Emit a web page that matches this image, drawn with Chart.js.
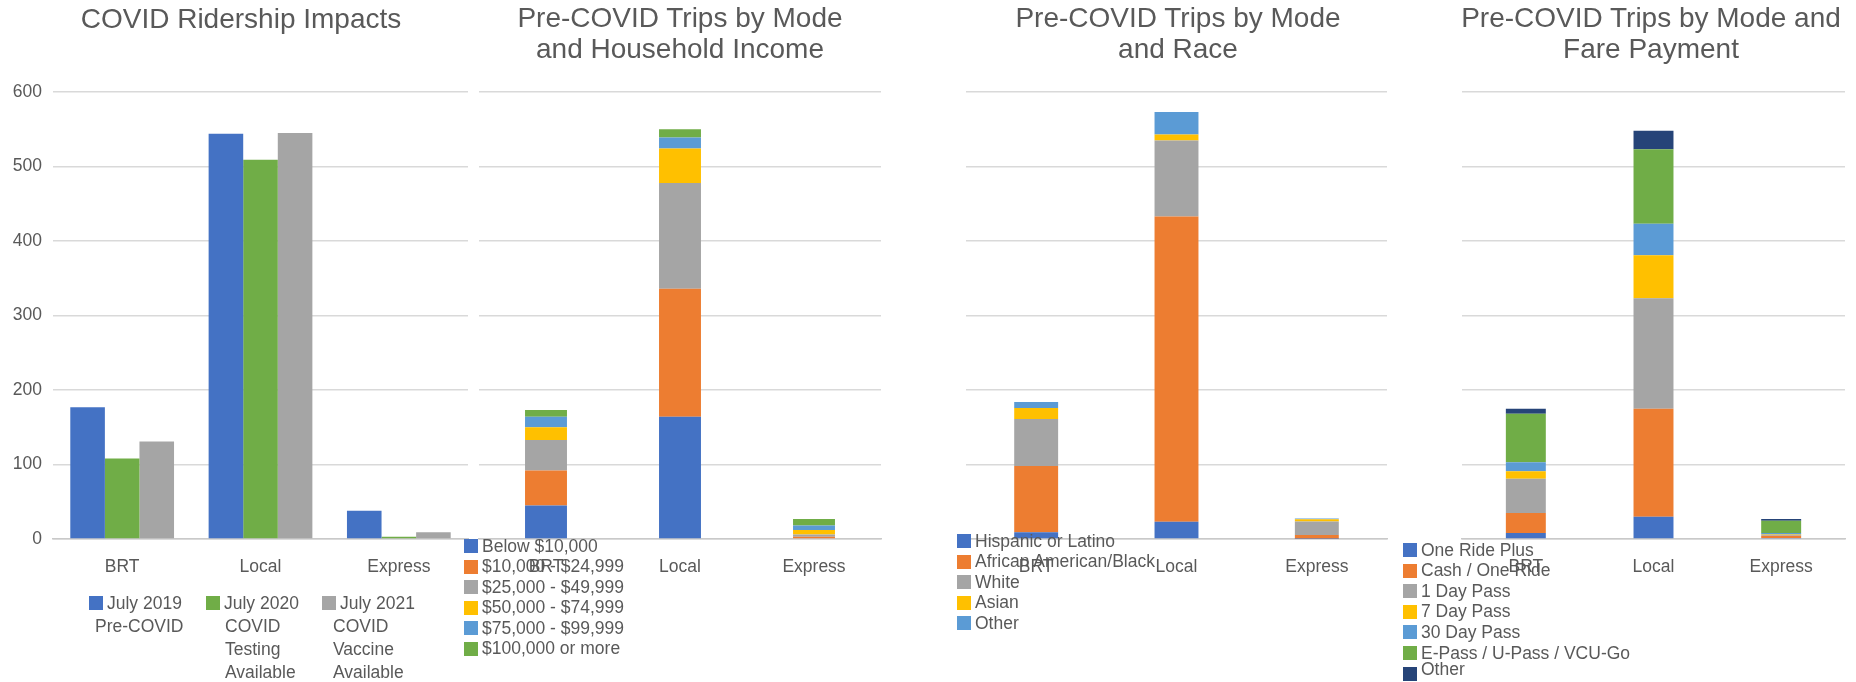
<!DOCTYPE html>
<html>
<head>
<meta charset="utf-8">
<script src="https://cdn.jsdelivr.net/npm/chart.js@4.4.1/dist/chart.umd.min.js"></script>
<style>
  html, body { margin: 0; padding: 0; background: #fff; width: 1856px; height: 682px; overflow: hidden;
    font-family: "Liberation Sans", Arial, sans-serif; color: #595959; }
  .panel { position: absolute; top: 0; height: 600px; }
  .title { position: absolute; width: 520px; text-align: center; font-size: 28px; line-height: 31px; white-space: nowrap; }
  .lg { position: absolute; font-size: 17.5px; line-height: 21px; white-space: nowrap; }
  .sw { position: absolute; width: 14px; height: 14px; }
</style>
</head>
<body>
<div class="panel" style="left:0;width:480px"><canvas id="c1"></canvas></div>
<div class="panel" style="left:470px;width:420px"><canvas id="c2"></canvas></div>
<div class="panel" style="left:956px;width:444px"><canvas id="c3"></canvas></div>
<div class="panel" style="left:1452px;width:404px"><canvas id="c4"></canvas></div>
<div id="overlay"></div>
<script>
// Modes shared by all four panels
const modes = ['BRT', 'Local', 'Express'];
const axisMax = 600;
const axisStep = 100;

// Ridership by period
const periodNames = [['July 2019', 'Pre-COVID'], ['July 2020', 'COVID', 'Testing', 'Available'], ['July 2021', 'COVID', 'Vaccine', 'Available']];
const july2019 = [177, 544, 38];
const july2020 = [108, 509, 3];
const july2021 = [131, 545, 9];

// Pre-COVID trips by household income
const incomeNames = ['Below $10,000', '$10,000 - $24,999', '$25,000 - $49,999', '$50,000 - $74,999', '$75,000 - $99,999', '$100,000 or more'];
const incomeBelow10k = [45, 164, 1];
const income10kTo25k = [47, 172, 2];
const income25kTo50k = [41, 142, 3];
const income50kTo75k = [17, 46, 6];
const income75kTo100k = [14, 15, 6];
const income100kPlus = [9, 11, 9];

// Pre-COVID trips by race
const raceNames = ['Hispanic or Latino', 'African American/Black', 'White', 'Asian', 'Other'];
const raceHispanic = [9, 23, 0.5];
const raceBlack = [89, 410, 5];
const raceWhite = [63, 102, 18];
const raceAsian = [15, 8, 3];
const raceOther = [8, 30, 1];

// Pre-COVID trips by fare payment
const fareNames = ['One Ride Plus', 'Cash / One Ride', '1 Day Pass', '7 Day Pass', '30 Day Pass', 'E-Pass / U-Pass / VCU-Go', 'Other'];
const fareOneRidePlus = [8, 30, 1.5];
const fareCash = [27, 145, 3];
const fareOneDay = [46, 148, 1];
const fareSevenDay = [10, 58, 0.5];
const fareThirtyDay = [12, 42, 2];
const fareEPass = [65, 100, 16.5];
const fareOther = [7, 25, 2.5];

const C = { blue: '#4472C4', orange: '#ED7D31', gray: '#A5A5A5', gold: '#FFC000', sky: '#5B9BD5', green: '#70AD47', navy: '#264478' };
const TEXT = '#595959';
const FONT = '"Liberation Sans", Arial, sans-serif';

function buildChart(id, cfg) {
  const datasets = cfg.series.map((s, i) => ({
    label: cfg.names[i], data: s, backgroundColor: cfg.colors[i], borderWidth: 0,
    categoryPercentage: cfg.catPct, barPercentage: 1
  }));
  return new Chart(document.getElementById(id), {
    type: 'bar',
    data: { labels: modes, datasets },
    options: {
      responsive: true, maintainAspectRatio: false, animation: false,
      layout: { padding: { top: 92, bottom: 0, left: cfg.padL, right: cfg.padR } },
      plugins: { legend: { display: false }, tooltip: { enabled: false }, title: { display: false } },
      scales: {
        x: {
          stacked: cfg.stacked,
          grid: { display: false },
          border: { color: '#c9c9c9', width: 1.5 },
          ticks: { color: TEXT, font: { family: FONT, size: 17.5 }, padding: 10 },
          afterFit: s => { s.height = 61; }
        },
        y: {
          stacked: cfg.stacked, min: 0, max: axisMax,
          grid: { color: '#d9d9d9', lineWidth: 1.5, drawTicks: false },
          border: { display: false },
          ticks: { display: cfg.yLabels, stepSize: axisStep, color: TEXT, font: { family: FONT, size: 17.5 }, padding: 11 },
          afterFit: s => { s.width = cfg.yWidth; }
        }
      }
    }
  });
}

buildChart('c1', { series: [july2019, july2020, july2021], names: periodNames.map(n => n.join(' ')),
  colors: [C.blue, C.green, C.gray], catPct: 0.75, stacked: false, yLabels: true, yWidth: 53, padL: 0, padR: 12 });
buildChart('c2', { series: [incomeBelow10k, income10kTo25k, income25kTo50k, income50kTo75k, income75kTo100k, income100kPlus],
  names: incomeNames, colors: [C.blue, C.orange, C.gray, C.gold, C.sky, C.green], catPct: 0.313, stacked: true, yLabels: false, yWidth: 0, padL: 9, padR: 9 });
buildChart('c3', { series: [raceHispanic, raceBlack, raceWhite, raceAsian, raceOther],
  names: raceNames, colors: [C.blue, C.orange, C.gray, C.gold, C.sky], catPct: 0.313, stacked: true, yLabels: false, yWidth: 0, padL: 10, padR: 13 });
buildChart('c4', { series: [fareOneRidePlus, fareCash, fareOneDay, fareSevenDay, fareThirtyDay, fareEPass, fareOther],
  names: fareNames, colors: [C.blue, C.orange, C.gray, C.gold, C.sky, C.green, C.navy], catPct: 0.313, stacked: true, yLabels: false, yWidth: 0, padL: 10, padR: 11 });

// Titles and legends
const overlay = document.getElementById('overlay');
function addTitle(lines, cx, top) {
  const d = document.createElement('div');
  d.className = 'title';
  d.style.left = (cx - 260) + 'px';
  d.style.top = top + 'px';
  d.innerHTML = lines.join('<br>');
  overlay.appendChild(d);
}
function addText(txt, x, cy) {
  const d = document.createElement('div');
  d.className = 'lg';
  d.textContent = txt;
  d.style.left = x + 'px';
  d.style.top = (cy - 10.5) + 'px';
  overlay.appendChild(d);
}
function addSwatch(color, x, cy, size) {
  const d = document.createElement('div');
  d.className = 'sw';
  d.style.background = color;
  d.style.left = x + 'px';
  d.style.top = (cy - size / 2) + 'px';
  d.style.width = size + 'px';
  d.style.height = size + 'px';
  overlay.appendChild(d);
}
// Vertical legend list; the last entry of a crowded list sits a little higher than its swatch
function addList(names, colors, boxX, firstY, step, lastLift) {
  names.forEach((n, i) => {
    const cy = firstY + i * step;
    addSwatch(colors[i], boxX, cy, 14);
    addText(n, boxX + 18, i === names.length - 1 ? cy - (lastLift || 0) : cy);
  });
}

addTitle(['COVID Ridership Impacts'], 241, 3);
addTitle(['Pre-COVID Trips by Mode', 'and Household Income'], 680, 2);
addTitle(['Pre-COVID Trips by Mode', 'and Race'], 1178, 2);
addTitle(['Pre-COVID Trips by Mode and', 'Fare Payment'], 1651, 2);

// Wrapped period legend
const periodCols = [{ box: 89, wrap: 95 }, { box: 206, wrap: 225 }, { box: 322, wrap: 333 }];
const periodColors = [C.blue, C.green, C.gray];
periodNames.forEach((lines, i) => {
  const col = periodCols[i];
  addSwatch(periodColors[i], col.box, 603, 14);
  lines.forEach((ln, j) => addText(ln, j === 0 ? col.box + 18 : col.wrap, 603 + j * 23.3));
});

addList(incomeNames, [C.blue, C.orange, C.gray, C.gold, C.sky, C.green], 464, 546, 20.5);
addList(raceNames, [C.blue, C.orange, C.gray, C.gold, C.sky], 957, 541, 20.5);
addList(fareNames, [C.blue, C.orange, C.gray, C.gold, C.sky, C.green, C.navy], 1403, 550, 20.6, 4);
</script>
</body>
</html>
